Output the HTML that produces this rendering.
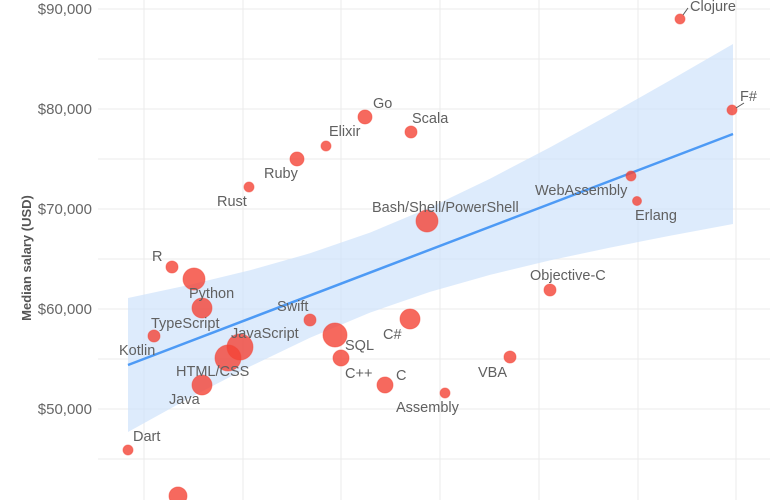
<!DOCTYPE html>
<html><head><meta charset="utf-8"><style>
html,body{margin:0;padding:0;background:#fff;}
svg{display:block;font-family:"Liberation Sans",sans-serif;}
</style></head><body>
<svg width="770" height="500" xmlns="http://www.w3.org/2000/svg">
<g stroke="#ebebeb" stroke-width="1">
<line x1="98" x2="770" y1="9" y2="9"/><line x1="98" x2="770" y1="59" y2="59"/><line x1="98" x2="770" y1="109" y2="109"/><line x1="98" x2="770" y1="159" y2="159"/><line x1="98" x2="770" y1="209" y2="209"/><line x1="98" x2="770" y1="259" y2="259"/><line x1="98" x2="770" y1="309" y2="309"/><line x1="98" x2="770" y1="359" y2="359"/><line x1="98" x2="770" y1="409" y2="409"/><line x1="98" x2="770" y1="459" y2="459"/>
<line x1="144" x2="144" y1="0" y2="500"/><line x1="243" x2="243" y1="0" y2="500"/><line x1="341" x2="341" y1="0" y2="500"/><line x1="440" x2="440" y1="0" y2="500"/><line x1="539" x2="539" y1="0" y2="500"/><line x1="638" x2="638" y1="0" y2="500"/><line x1="736" x2="736" y1="0" y2="500"/>
</g>
<g fill="#666" font-size="15" text-anchor="end">
<text x="92" y="14">$90,000</text><text x="92" y="114">$80,000</text><text x="92" y="214">$70,000</text><text x="92" y="314">$60,000</text><text x="92" y="414">$50,000</text>
</g>
<text transform="translate(31,258) rotate(-90)" text-anchor="middle" font-size="13" fill="#555" font-weight="bold">Median salary (USD)</text>
<path fill="#cfe2fb" fill-opacity="0.7" d="M128,298 L190,284.8 L250,270.3 L310,253.3 L370,232.6 L430,207.5 L490,178.7 L550,147.4 L610,114.4 L670,80.4 L733,44 L733,224 L670,235.8 L610,247.6 L550,260.4 L490,274.9 L430,291.9 L370,312.6 L310,337.7 L250,366.5 L190,397.8 L128,432 Z"/>
<line x1="128" y1="365" x2="733" y2="134" stroke="#4d9af5" stroke-width="2.5"/>
<g fill="#f44336" fill-opacity="0.8" stroke="#f44336" stroke-opacity="0.5" stroke-width="1">
<circle cx="680" cy="19" r="5"/><circle cx="732" cy="110" r="5"/><circle cx="365" cy="117" r="7"/><circle cx="411" cy="132" r="6"/><circle cx="326" cy="146" r="5"/><circle cx="297" cy="159" r="7"/><circle cx="249" cy="187" r="5"/><circle cx="631" cy="176" r="5"/><circle cx="637" cy="201" r="4.5"/><circle cx="427" cy="221" r="11"/><circle cx="172" cy="267" r="6"/><circle cx="194" cy="279" r="11"/><circle cx="202" cy="308" r="10"/><circle cx="550" cy="290" r="6"/><circle cx="310" cy="320" r="6"/><circle cx="410" cy="319" r="10"/><circle cx="154" cy="336" r="6"/><circle cx="335" cy="335" r="12"/><circle cx="240" cy="347" r="13"/><circle cx="228" cy="358" r="13"/><circle cx="341" cy="358" r="8"/><circle cx="510" cy="357" r="6"/><circle cx="385" cy="385" r="8"/><circle cx="202" cy="385" r="10"/><circle cx="445" cy="393" r="5"/><circle cx="128" cy="450" r="5"/><circle cx="178" cy="496" r="9"/>
</g>
<g stroke="#555" stroke-width="1"><line x1="683" y1="15" x2="688" y2="8"/><line x1="736" y1="108" x2="744" y2="103"/></g>
<g fill="#606060" font-size="14.5">
<text x="690" y="11">Clojure</text><text x="740" y="101">F#</text><text x="373" y="108">Go</text><text x="412" y="123">Scala</text><text x="329" y="136">Elixir</text><text x="264" y="178">Ruby</text><text x="217" y="206">Rust</text><text x="535" y="195">WebAssembly</text><text x="635" y="220">Erlang</text><text x="372" y="212">Bash/Shell/PowerShell</text><text x="152" y="261">R</text><text x="189" y="298">Python</text><text x="530" y="280">Objective-C</text><text x="277" y="311">Swift</text><text x="383" y="339">C#</text><text x="151" y="328">TypeScript</text><text x="231" y="338">JavaScript</text><text x="345" y="350">SQL</text><text x="176" y="376">HTML/CSS</text><text x="345" y="378">C++</text><text x="396" y="380">C</text><text x="478" y="377">VBA</text><text x="169" y="404">Java</text><text x="396" y="412">Assembly</text><text x="119" y="355">Kotlin</text><text x="133" y="441">Dart</text>
</g>
</svg>
</body></html>
